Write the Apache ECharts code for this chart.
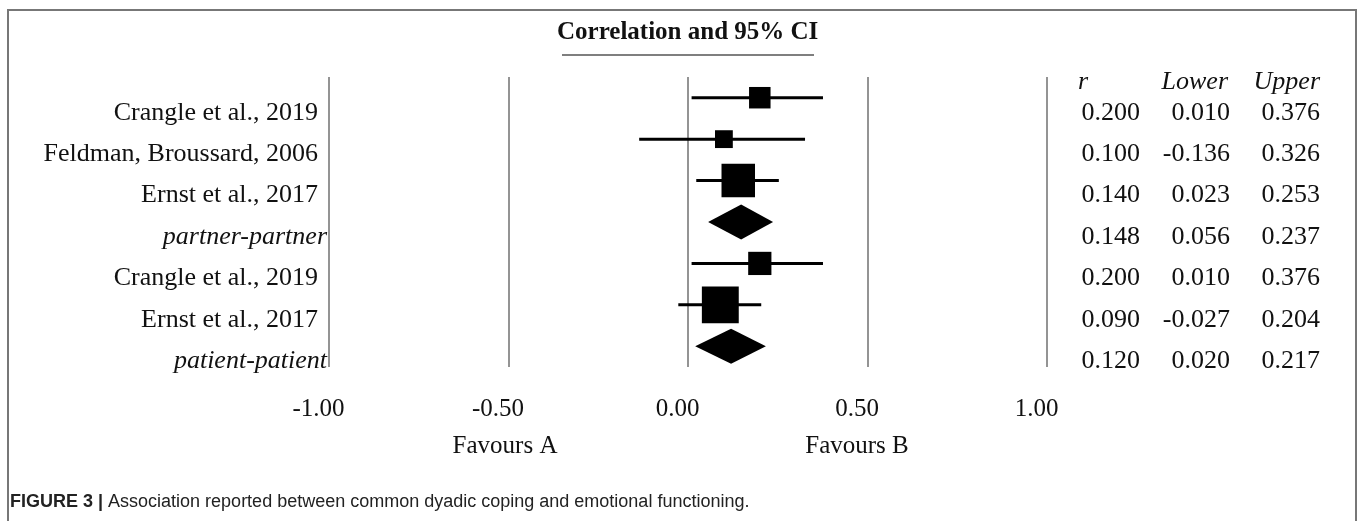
<!DOCTYPE html>
<html>
<head>
<meta charset="utf-8">
<script src="https://cdn.jsdelivr.net/npm/echarts@6.0.0/dist/echarts.min.js"></script>
<style>
  html, body { margin: 0; padding: 0; background: #fff; }
  #chart { width: 1360px; height: 521px; }
</style>
</head>
<body>
<div id="chart"></div>
<script>
const studies = [
  "Crangle et al., 2019",
  "Feldman, Broussard, 2006",
  "Ernst et al., 2017",
  "partner-partner",
  "Crangle et al., 2019",
  "Ernst et al., 2017",
  "patient-patient"
];
const rValues = [0.200, 0.100, 0.140, 0.148, 0.200, 0.090, 0.120];
const lowerCI = [0.010, -0.136, 0.023, 0.056, 0.010, -0.027, 0.020];
const upperCI = [0.376, 0.326, 0.253, 0.237, 0.376, 0.204, 0.217];
// relative study weight (%), pooled rows have none
const studyWeights = [24.3, 16.7, 59.0, null, 28.4, 71.6, null];
const summaryRows = [3, 6];
const tableHeaders = ["r", "Lower", "Upper"];

const SERIF = '"Liberation Serif", "Times New Roman", serif';
const SANS = '"Liberation Sans", Arial, sans-serif';
const INK = "#111";

const chart = echarts.init(document.getElementById("chart"));

function renderForest(params, api) {
  const row = api.value(0);
  const c = api.coord([api.value(1), row]);
  const lo = api.coord([api.value(2), row]);
  const hi = api.coord([api.value(3), row]);
  if (summaryRows.includes(params.dataIndex)) {
    const h = 17.5;
    return {
      type: "polygon",
      shape: { points: [[lo[0], c[1]], [c[0], c[1] - h], [hi[0], c[1]], [c[0], c[1] + h]] },
      style: { fill: "#000" }
    };
  }
  const s = Math.sqrt(studyWeights[params.dataIndex]) * 4.36;
  return {
    type: "group",
    children: [
      {
        type: "line",
        shape: { x1: lo[0], y1: c[1], x2: hi[0], y2: c[1] },
        style: { stroke: "#000", lineWidth: 3 }
      },
      {
        type: "rect",
        shape: { x: c[0] - s / 2, y: c[1] - s / 2, width: s, height: s },
        style: { fill: "#000" }
      }
    ]
  };
}

const tableCols = [rValues, lowerCI, upperCI];
const tableData = [];
tableCols.forEach((col, ci) => {
  col.forEach((v, ri) => tableData.push([ci + 1, ri]));
});

function renderTable(params, api) {
  const col = api.value(0);
  const row = api.value(1);
  const p = api.coord([col, row]);
  return {
    type: "text",
    x: p[0],
    y: p[1],
    style: {
      text: tableCols[col - 1][row].toFixed(3),
      fontFamily: SERIF,
      fontSize: 26,
      fill: INK,
      align: "right",
      verticalAlign: "middle"
    }
  };
}

const option = {
  animation: false,
  backgroundColor: "#fff",
  title: {
    text: "Correlation and 95% CI",
    left: 557,
    top: 20,
    padding: 0,
    textStyle: { fontFamily: SERIF, fontSize: 25, fontWeight: "bold", color: INK }
  },
  grid: [
    { left: 329, width: 718, top: 77, height: 290 },
    { left: 1050, width: 270, top: 92, height: 290 }
  ],
  xAxis: [
    {
      gridIndex: 0,
      type: "value",
      min: -1,
      max: 1,
      interval: 0.5,
      axisLine: { show: false },
      axisTick: { show: false },
      splitLine: { show: true, lineStyle: { color: "#707070", width: 1.5 } },
      axisLabel: {
        formatter: (v) => v.toFixed(2),
        fontFamily: SERIF,
        fontSize: 25,
        color: INK,
        margin: 30,
        padding: [0, 21, 0, 0]
      }
    },
    { gridIndex: 1, type: "value", min: 0, max: 3, show: false }
  ],
  yAxis: [
    {
      gridIndex: 0,
      type: "category",
      inverse: true,
      data: studies,
      axisLine: { show: false },
      axisTick: { show: false },
      splitLine: { show: false },
      axisLabel: {
        margin: 2,
        padding: [30, 0, 0, 0],
        formatter: (value, idx) => (summaryRows.includes(idx) ? `{it|${value}}` : `{rm|${value}}`),
        rich: {
          rm: { fontFamily: SERIF, fontSize: 26, color: INK, padding: [0, 9, 0, 0] },
          it: { fontFamily: SERIF, fontSize: 26, color: INK, fontStyle: "italic" }
        }
      }
    },
    {
      gridIndex: 1,
      type: "category",
      inverse: true,
      data: studies.map((s, i) => i),
      show: false
    }
  ],
  series: [
    {
      type: "custom",
      xAxisIndex: 0,
      yAxisIndex: 0,
      renderItem: renderForest,
      encode: { y: 0, x: [1, 2, 3] },
      data: studies.map((s, i) => [i, rValues[i], lowerCI[i], upperCI[i]]),
      z: 5
    },
    {
      type: "custom",
      xAxisIndex: 1,
      yAxisIndex: 1,
      renderItem: renderTable,
      encode: { x: 0, y: 1 },
      data: tableData
    }
  ],
  graphic: [
    {
      type: "rect",
      silent: true,
      z: -10,
      shape: { x: 8, y: 10, width: 1348, height: 540 },
      style: { fill: "none", stroke: "#777", lineWidth: 2 }
    },
    {
      type: "line",
      silent: true,
      shape: { x1: 562, y1: 55, x2: 814, y2: 55 },
      style: { stroke: "#555", lineWidth: 1.5 }
    },
    {
      type: "text", x: 1078, y: 82,
      style: { text: tableHeaders[0], fontFamily: SERIF, fontSize: 26, fontStyle: "italic", fill: INK, align: "left", verticalAlign: "middle" }
    },
    {
      type: "text", x: 1228, y: 82,
      style: { text: tableHeaders[1], fontFamily: SERIF, fontSize: 26, fontStyle: "italic", fill: INK, align: "right", verticalAlign: "middle" }
    },
    {
      type: "text", x: 1320, y: 82,
      style: { text: tableHeaders[2], fontFamily: SERIF, fontSize: 26, fontStyle: "italic", fill: INK, align: "right", verticalAlign: "middle" }
    },
    {
      type: "text", x: 505, y: 446,
      style: { text: "Favours A", fontFamily: SERIF, fontSize: 25, fill: INK, align: "center", verticalAlign: "middle" }
    },
    {
      type: "text", x: 857, y: 446,
      style: { text: "Favours B", fontFamily: SERIF, fontSize: 25, fill: INK, align: "center", verticalAlign: "middle" }
    },
    {
      type: "text", x: 10, y: 502,
      style: {
        text: "{b|FIGURE 3 |} Association reported between common dyadic coping and emotional functioning.",
        fontFamily: SANS,
        fontSize: 18,
        fill: "#222",
        align: "left",
        verticalAlign: "middle",
        rich: { b: { fontFamily: SANS, fontSize: 18, fontWeight: "bold", fill: "#222" } }
      }
    }
  ]
};

chart.setOption(option);
</script>
</body>
</html>
